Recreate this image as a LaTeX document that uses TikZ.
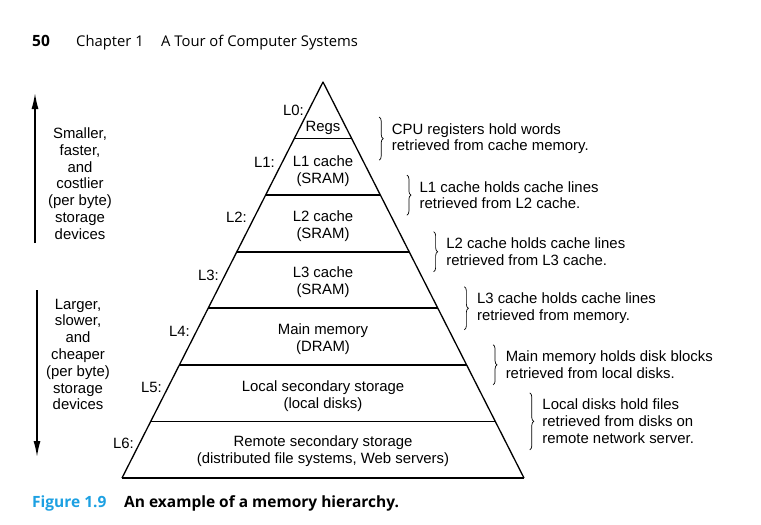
\documentclass[tikz,border=0pt]{standalone}
\usepackage{fontspec}
\setmainfont{Liberation Sans}
\newfontfamily\headfont{Open Sans}
\usetikzlibrary{arrows.meta,positioning,calc,decorations.pathreplacing}
\definecolor{figblue}{RGB}{28,160,226}

\tikzset{
  txt/.style={font=\fontsize{14.9}{16.8}\selectfont, align=center, inner sep=0pt},
  desc/.style={txt, align=left, anchor=west, inner ysep=6pt},
  lvl/.style={txt, anchor=east},
  head/.style={anchor=base west, inner sep=0pt, font=\headfont\fontsize{14.8}{18}\selectfont},
  capt/.style={head, font=\headfont\bfseries\fontsize{15.5}{17}\selectfont},
  levelline/.style={line width=1.7pt},
  side/.style={line width=1.3pt, line join=round},
  brc/.style={decorate, decoration={brace, amplitude=4pt}, line width=0.7pt},
  bigarrow/.style={line width=1.5pt, -{Latex[length=16pt,width=7pt]}},
}

\begin{document}
\begin{tikzpicture}[x=1pt,y=-1pt]
\useasboundingbox (0,0) rectangle (761,525);

% running head
\node[head, font=\headfont\bfseries\fontsize{15.5}{18}\selectfont] (page) at (32,46) {50};
\node[head] (chap) at (76,46) {Chapter 1};
\node[head] (title) at (161,46) {A Tour of Computer Systems};

% the pyramid
\coordinate (apex) at (323,82);
\coordinate (bl) at (122,478);
\coordinate (br) at (524,478);
\draw[side] (bl) -- (apex) -- (br);
\foreach \k in {1,...,6} {
  \coordinate (s\k) at ($(apex)!\k/7!(bl)$);
  \coordinate (e\k) at ($(apex)!\k/7!(br)$);
  \draw[levelline] (s\k) -- (e\k);
}
\draw[levelline] (bl) -- (br);

% what sits at each level
\node[txt] (regs) at (323,128) {Regs};
\node[txt] (l1c) at (323,171) {L1 cache\\(SRAM)};
\node[txt] (l2c) at (323,226) {L2 cache\\(SRAM)};
\node[txt] (l3c) at (323,282) {L3 cache\\(SRAM)};
\node[txt] (mem) at (323,339.5) {Main memory\\(DRAM)};
\node[txt] (disk) at (323,396) {Local secondary storage\\(local disks)};
\node[txt] (remote) at (323,451.5) {Remote secondary storage\\(distributed file systems, Web servers)};

% level names
\node[lvl] (L0) at (304,110) {L0:};
\node[lvl] (L1) at (275,162) {L1:};
\node[lvl] (L2) at (247,217) {L2:};
\node[lvl] (L3) at (219,275) {L3:};
\node[lvl] (L4) at (190,331) {L4:};
\node[lvl] (L5) at (162,387) {L5:};
\node[lvl] (L6) at (134,443) {L6:};

% notes on the right
\node[desc, right=40pt of e1] (d0) {CPU registers hold words\\retrieved from cache memory.};
\node[desc, right=39pt of e2] (d1) {L1 cache holds cache lines\\retrieved from L2 cache.};
\node[desc, right=37pt of e3] (d2) {L2 cache holds cache lines\\retrieved from L3 cache.};
\node[desc, right=39pt of e4] (d3) {L3 cache holds cache lines\\retrieved from memory.};
\node[desc, right=39pt of e5] (d4) {Main memory holds disk blocks\\retrieved from local disks.};
\node[desc, right=47pt of e6] (d5) {Local disks hold files\\retrieved from disks on\\remote network server.};
\foreach \d in {d0,d1,d2,d3,d4,d5}
  \draw[brc] ([xshift=-12.5pt]\d.north west) -- ([xshift=-12.5pt]\d.south west);

% left side
\node[txt] (upper) at (80,183.5) {Smaller,\\faster,\\and\\costlier\\(per byte)\\storage\\devices};
\node[txt] (lower) at (78,354.5) {Larger,\\slower,\\and\\cheaper\\(per byte)\\storage\\devices};
\coordinate (upbot) at (35,243);
\coordinate (uptop) at (35,93);
\coordinate (downtop) at (37,290);
\coordinate (downbot) at (37,457);
\draw[bigarrow] (upbot) -- (uptop);
\draw[bigarrow] (downtop) -- (downbot);

% caption
\node[capt, text=figblue] (fig) at (32,507) {Figure 1.9};
\node[capt] (cap) at (124,507) {An example of a memory hierarchy.};
\end{tikzpicture}
\end{document}
